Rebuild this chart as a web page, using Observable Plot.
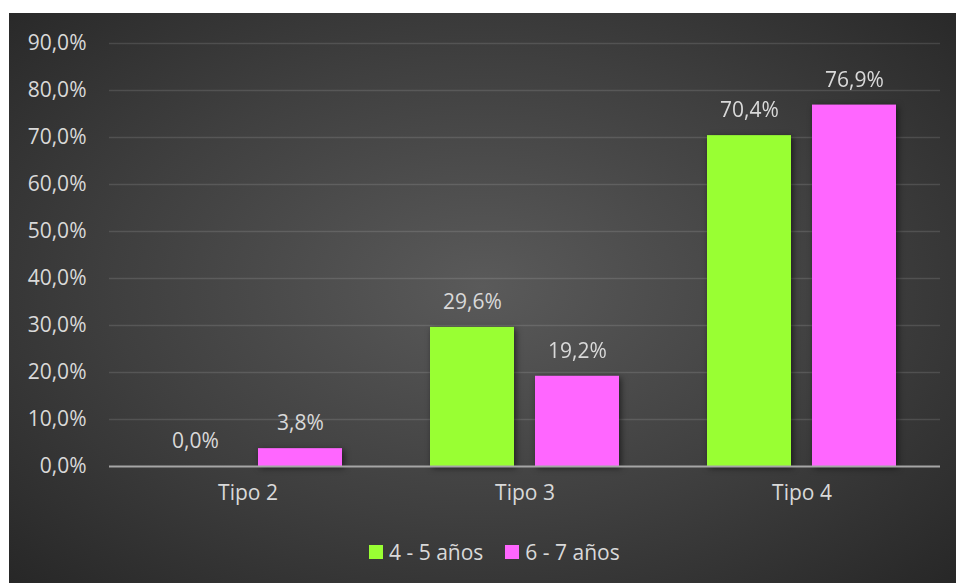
<!DOCTYPE html>
<html>
<head>
<meta charset="utf-8">
<script src="https://cdn.jsdelivr.net/npm/d3@7"></script>
<script src="https://cdn.jsdelivr.net/npm/@observablehq/plot@0.6"></script>
<style>
  html, body { margin: 0; padding: 0; background: #ffffff; }
  #panel {
    position: absolute; left: 9px; top: 13px; width: 947px; height: 570px;
    background: radial-gradient(ellipse farthest-corner at 50% 48%, #5a5a5a 0%, #3f3f3f 55%, #272727 100%);
    overflow: hidden;
    font-family: "Open Sans", sans-serif;
  }
  #chart { position: absolute; left: 0; top: 0; }
  #legend {
    position: absolute; left: 360px; top: 525px; display: flex; align-items: center;
    font-size: 21px; color: #d9d9d9; font-family: "Open Sans", sans-serif;
  }
  .item { display: flex; align-items: center; margin-right: 22px; }
  .sw { width: 14px; height: 14px; margin-right: 6px; }
</style>
</head>
<body>
<div id="panel">
  <div id="chart"></div>
  <div id="legend"></div>
</div>
<script>
const categories = ["Tipo 2", "Tipo 3", "Tipo 4"];
const seriesNames = ["4 - 5 años", "6 - 7 años"];
const values45 = [0.0, 29.6, 70.4];
const values67 = [3.8, 19.2, 76.9];
const seriesColors = ["#99ff33", "#ff66ff"];
const yTicks = [0, 10, 20, 30, 40, 50, 60, 70, 80, 90];

const data = [];
categories.forEach((c, i) => {
  data.push({cat: c, series: seriesNames[0], value: values45[i]});
  data.push({cat: c, series: seriesNames[1], value: values67[i]});
});
const fmt = d => d.toFixed(1).replace(".", ",") + "%";

const chart = Plot.plot({
  width: 947,
  height: 500,
  marginLeft: 100,
  marginRight: 16,
  marginTop: 30,
  marginBottom: 47,
  style: { background: "transparent", color: "#d9d9d9", fontFamily: "Open Sans, sans-serif", fontSize: "21px", overflow: "visible" },
  fx: { domain: categories, padding: 0, label: null },
  x: { domain: seriesNames, paddingInner: 0.198, paddingOuter: 0.406, axis: null },
  y: { domain: [0, 90], label: null },
  color: { domain: seriesNames, range: seriesColors },
  marks: [
    Plot.gridY(yTicks.slice(1), { stroke: "#ffffff", strokeOpacity: 0.12, strokeWidth: 1.3 }),
    Plot.axisY(yTicks, { tickSize: 0, tickPadding: 23, tickFormat: fmt, fontSize: 21, fill: "#d9d9d9", label: null }),
    Plot.axisFx({ anchor: "bottom", tickSize: 0, tickPadding: 19, fontSize: 21, fill: "#d9d9d9", label: null }),
    Plot.barY(data, { fx: "cat", x: "series", y: "value", fill: "series" }),
    Plot.ruleY([0], { stroke: "#a6a6a6", strokeWidth: 2 }),
    Plot.text(data, { fx: "cat", x: "series", y: "value", text: d => fmt(d.value), dy: -25, fill: "#d9d9d9", fontSize: 21 })
  ]
});
chart.querySelectorAll("g[aria-label='bar']").forEach(g => g.style.filter = "drop-shadow(2px 2px 3px rgba(0,0,0,0.55))");
document.getElementById("chart").appendChild(chart);

const legend = document.getElementById("legend");
seriesNames.forEach((s, i) => {
  const item = document.createElement("div");
  item.className = "item";
  const sw = document.createElement("div");
  sw.className = "sw";
  sw.style.background = seriesColors[i];
  const t = document.createElement("span");
  t.textContent = s;
  item.appendChild(sw); item.appendChild(t);
  legend.appendChild(item);
});
</script>
</body>
</html>
